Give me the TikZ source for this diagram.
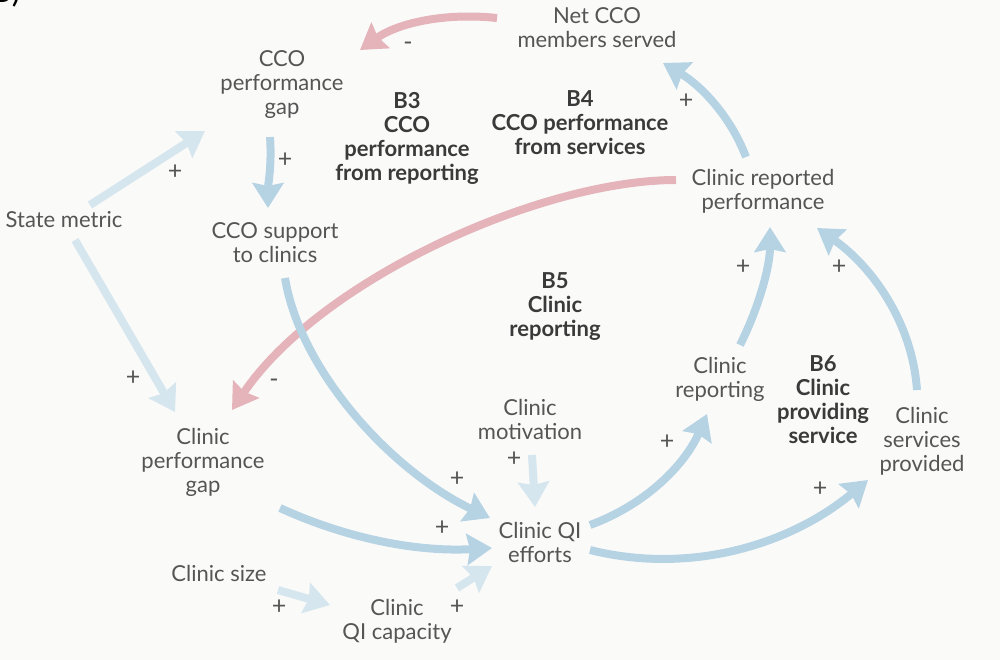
\documentclass[tikz,border=0pt]{standalone}
\usepackage{fontspec}
\setmainfont{Lato}
\usetikzlibrary{arrows.meta,calc}
\definecolor{txt}{HTML}{555555}
\definecolor{btxt}{HTML}{3A3A3A}
\definecolor{ablue}{HTML}{B6D3E4}
\definecolor{alight}{HTML}{D6E6EF}
\definecolor{ared}{HTML}{E5B3BA}
\definecolor{bg}{HTML}{FAFAF9}
\tikzset{
  var/.style={align=center, text=txt, inner sep=0pt, font=\fontsize{22}{24}\selectfont},
  loopname/.style={align=center, text=btxt, inner sep=0pt, font=\fontsize{22}{24}\selectfont\bfseries},
  sign/.style={text=txt, inner sep=0pt, font=\fontsize{25}{25}\selectfont},
  link/.style={line width=8pt, -{Stealth[inset=3pt,length=25pt,width=31pt]}},
  blink/.style={link, draw=ablue},
  llink/.style={link, draw=alight},
  rlink/.style={link, draw=ared}
}
\begin{document}
\begin{tikzpicture}[x=1pt,y=-1pt]
\fill[bg] (0,0) rectangle (1000,660);
\useasboundingbox (0,0) rectangle (1000,660);
\node[anchor=base west, font=\fontsize{32}{32}\selectfont, text=black, inner sep=0pt] (fig) at (-9,3) {B)};
% variables
\node[var] (net) at (597,28) {Net CCO\\members served};
\node[var] (ccogap) at (282,85) {CCO\\performance\\gap};
\node[var] (crp) at (763,191) {Clinic reported\\performance};
\node[var] (state) at (64,220) {State metric};
\node[var] (ccosup) at (275,243) {CCO support\\to clinics};
\node[var] (crep) at (720,379) {Clinic\\reporting};
\node[var] (csp) at (922,441) {Clinic\\services\\provided};
\node[var] (cmot) at (530,419) {Clinic\\motivation};
\node[var] (cpg) at (203,462) {Clinic\\performance\\gap};
\node[var] (cqi) at (540,542) {Clinic QI\\efforts};
\node[var] (csize) at (219,573) {Clinic size};
\node[var] (cqicap) at (397,621) {Clinic\\QI capacity};
% loop names
\node[loopname] (b3) at (407,138) {B3\\CCO\\performance\\from reporting};
\node[loopname] (b4) at (580,123) {B4\\CCO performance\\from services};
\node[loopname] (b5) at (555,307) {B5\\Clinic\\reporting};
\node[loopname] (b6) at (823,400) {B6\\Clinic\\providing\\service};
% links
\draw[rlink] ($(net)+(-100,-10)$) .. controls (440,12) and (395,25) .. ($(ccogap)+(78,-35)$);
\draw[rlink] ($(crp)+(-87,-11)$) .. controls (540,180) and (320,280) .. ($(cpg)+(29,-52)$);
\draw[blink] ($(ccogap)+(-12,52)$) .. controls (272,165) and (268,185) .. ($(ccosup)+(-7,-35)$);
\draw[llink] ($(state)+(26,-15)$) -- ($(ccogap)+(-77,46)$);
\draw[llink] ($(state)+(11,20)$) -- ($(cpg)+(-28,-50)$);
\draw[blink] ($(ccosup)+(10,35)$) .. controls (300,370) and (390,470) .. ($(cqi)+(-50,-24)$);
\draw[blink] ($(cpg)+(77,46)$) .. controls (350,540) and (420,552) .. ($(cqi)+(-48,6)$);
\draw[llink] ($(csize)+(59,17)$) -- ($(cqicap)+(-67,-16)$);
\draw[llink] ($(cqicap)+(60,-33)$) -- ($(cqi)+(-48,24)$);
\draw[llink] ($(cmot)+(2,36)$) -- ($(cqi)+(-5,-35)$);
\draw[blink] ($(cqi)+(50,-17)$) .. controls (645,505) and (685,465) .. ($(crep)+(-13,35)$);
\draw[blink] ($(cqi)+(50,8)$) .. controls (690,575) and (790,545) .. ($(csp)+(-54,39)$);
\draw[blink] ($(crep)+(20,-34)$) .. controls (760,305) and (770,265) .. ($(crp)+(7,36)$);
\draw[blink] ($(csp)+(-5,-51)$) .. controls (912,320) and (870,265) .. ($(crp)+(54,37)$);
\draw[blink] ($(crp)+(-17,-34)$) .. controls (730,115) and (700,85) .. ($(net)+(66,35)$);
% signs
\node[sign] (m1) at (408,46) {-};
\node[sign] (m2) at (274,383) {-};
\node[sign] (p3) at (285,160) {+};
\node[sign] (p4) at (175,172) {+};
\node[sign] (p5) at (133,378) {+};
\node[sign] (p6) at (457,479) {+};
\node[sign] (p7) at (442,528) {+};
\node[sign] (p8) at (279,607) {+};
\node[sign] (p9) at (457,607) {+};
\node[sign] (p10) at (514,459) {+};
\node[sign] (p11) at (667,442) {+};
\node[sign] (p12) at (820,489) {+};
\node[sign] (p13) at (743,267) {+};
\node[sign] (p14) at (839,267) {+};
\node[sign] (p15) at (686,101) {+};
\end{tikzpicture}
\end{document}
